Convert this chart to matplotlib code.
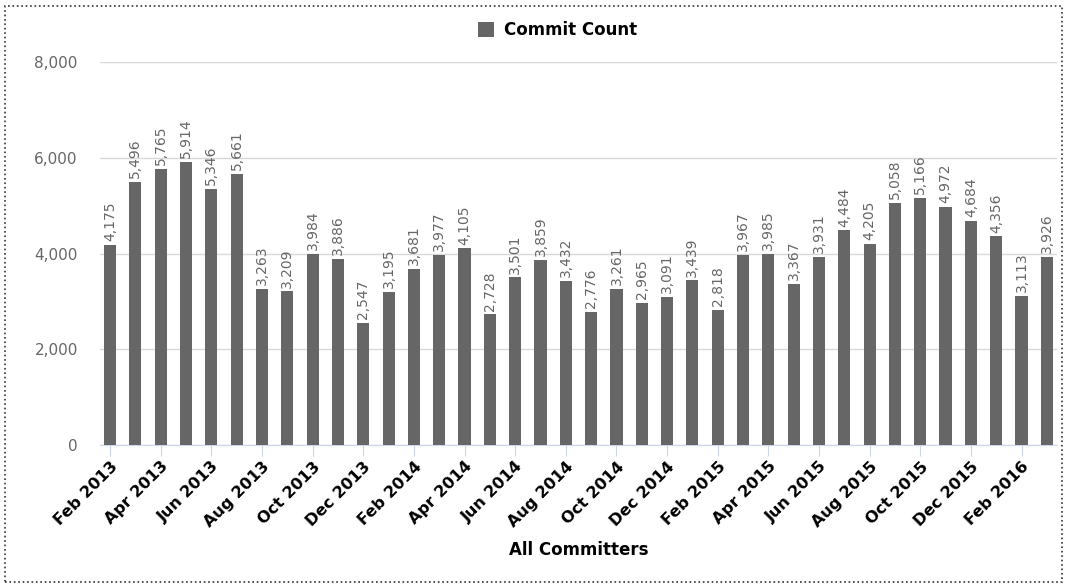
import numpy as np
import matplotlib.pyplot as plt
from matplotlib.patches import Rectangle

# Monthly commit counts, Feb 2013 .. Mar 2016
months = ['Feb 2013', 'Mar 2013', 'Apr 2013', 'May 2013', 'Jun 2013', 'Jul 2013',
          'Aug 2013', 'Sep 2013', 'Oct 2013', 'Nov 2013', 'Dec 2013', 'Jan 2014',
          'Feb 2014', 'Mar 2014', 'Apr 2014', 'May 2014', 'Jun 2014', 'Jul 2014',
          'Aug 2014', 'Sep 2014', 'Oct 2014', 'Nov 2014', 'Dec 2014', 'Jan 2015',
          'Feb 2015', 'Mar 2015', 'Apr 2015', 'May 2015', 'Jun 2015', 'Jul 2015',
          'Aug 2015', 'Sep 2015', 'Oct 2015', 'Nov 2015', 'Dec 2015', 'Jan 2016',
          'Feb 2016', 'Mar 2016']
commits = [4175, 5496, 5765, 5914, 5346, 5661, 3263, 3209, 3984, 3886, 2547, 3195,
           3681, 3977, 4105, 2728, 3501, 3859, 3432, 2776, 3261, 2965, 3091, 3439,
           2818, 3967, 3985, 3367, 3931, 4484, 4205, 5058, 5166, 4972, 4684, 4356,
           3113, 3926]

fig = plt.figure(figsize=(10.67, 5.85), dpi=100)
ax = fig.add_axes([0.0937, 0.2393, 0.8969, 0.6547])

x = np.arange(len(months))
ax.bar(x, commits, width=0.48, color='#666666', label='Commit Count', zorder=3)

for xi, v in zip(x, commits):
    ax.text(xi, v + 80, f'{v:,}', rotation=90, ha='center', va='bottom',
            fontsize=10, color='#666666')

ax.set_xlim(-0.4, len(months) - 0.6)
ax.set_ylim(0, 8000)
yt = [0, 2000, 4000, 6000, 8000]
ax.set_yticks(yt)
ax.set_yticklabels([f'{t:,}' for t in yt])
ax.yaxis.grid(True, color='#d8d8d8', linewidth=1, zorder=0)
ax.tick_params(axis='y', length=0, labelsize=11, labelcolor='#666666', pad=16)

ax.set_xticks(x[::2])
ax.set_xticklabels(months[::2], rotation=45, ha='right', rotation_mode='anchor',
                   fontsize=11.5, fontweight='bold')
ax.tick_params(axis='x', length=8, color='#ccd6eb', pad=2)

for s in ['top', 'right', 'left']:
    ax.spines[s].set_visible(False)
ax.spines['bottom'].set_color('#ccd6eb')

ax.set_xlabel('All Committers', fontsize=12, fontweight='bold', labelpad=8)

ax.legend(loc='lower center', bbox_to_anchor=(0.478, 1.02), frameon=False,
          prop={'weight': 'bold', 'size': 12}, handlelength=1.0,
          handleheight=1.0, handletextpad=0.6)

fig.patches.append(Rectangle((0.005, 0.005), 0.99, 0.985, transform=fig.transFigure,
                             fill=False, linestyle=':', linewidth=1.2, color='#333333'))

fig.savefig('out.png', dpi=100)
